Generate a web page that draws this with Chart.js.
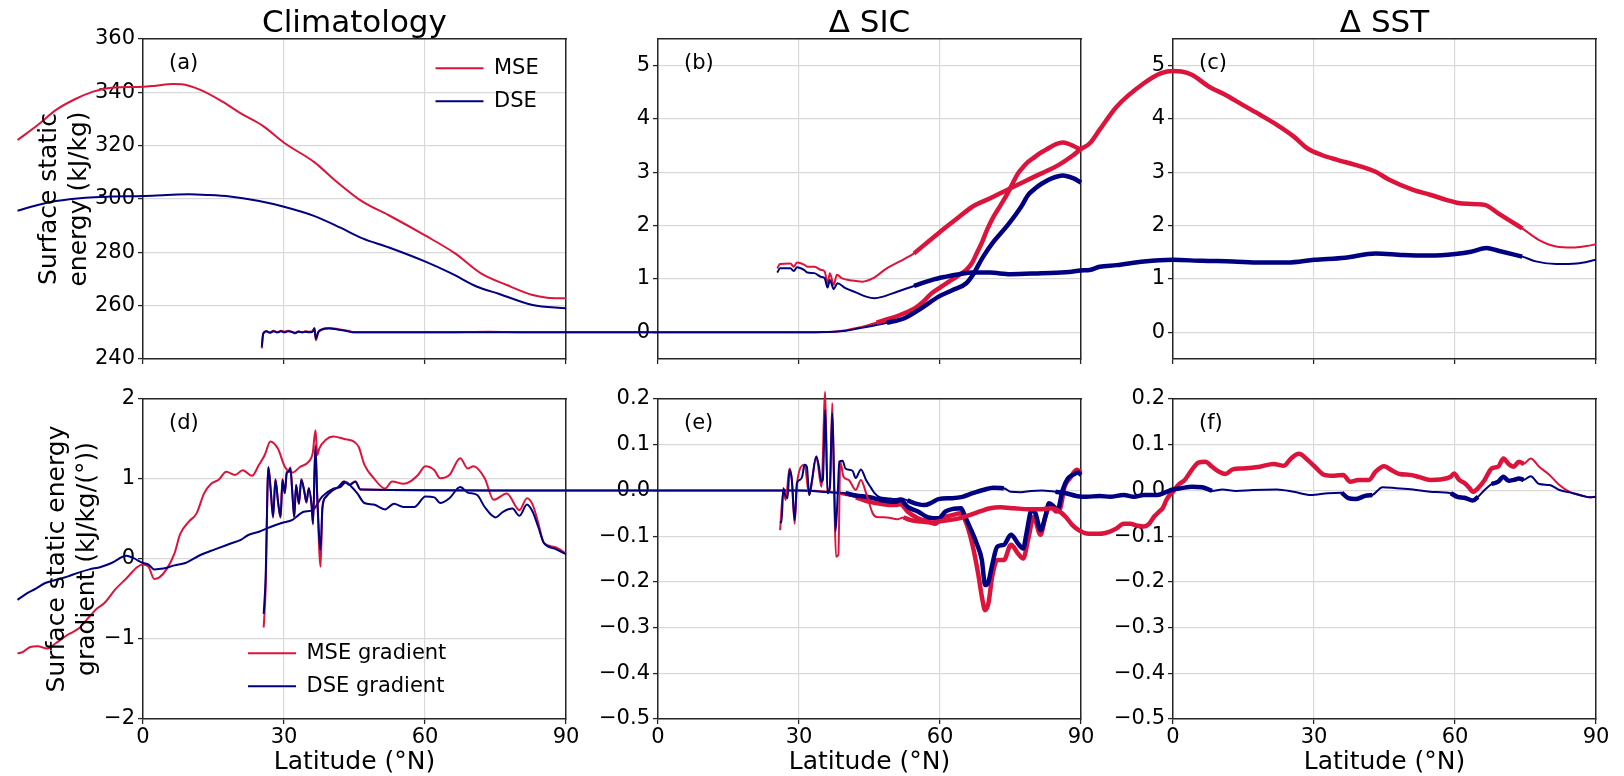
<!DOCTYPE html>
<html>
<head>
<meta charset="utf-8">
<title>Surface static energy</title>
<script src="https://cdn.jsdelivr.net/npm/chart.js@4.4.1/dist/chart.umd.min.js"></script>
<style>
  html, body { margin: 0; padding: 0; background: #fff; }
  #wrap { position: relative; width: 1624px; height: 776px; overflow: hidden; }
  #wrap canvas { position: absolute; left: 0; top: 0; }
</style>
</head>
<body>
<div id="wrap">
  <canvas id="pa" width="1624" height="776"></canvas>
  <canvas id="pb" width="1624" height="776"></canvas>
  <canvas id="pc" width="1624" height="776"></canvas>
  <canvas id="pd" width="1624" height="776"></canvas>
  <canvas id="pe" width="1624" height="776"></canvas>
  <canvas id="pf" width="1624" height="776"></canvas>
</div>
<script>
// ticks
const latTicks = [0, 30, 60, 90];
const climTicks = [240, 260, 280, 300, 320, 340, 360];
const deltaTicks = [0, 1, 2, 3, 4, 5];
const climGradTicks = [-2, -1, 0, 1, 2];
const deltaGradTicks = [-0.5, -0.4, -0.3, -0.2, -0.1, 0.0, 0.1, 0.2];

// (a) climatology
const climMseLat = [-26.7, -22.4, -18.5, -14.5, -10.6, -6.7, 0, 2.7, 6.3, 8.2, 12.2, 16.9, 20.8, 25.5, 30, 36.5, 41.2, 46.7, 52.2, 60.1, 66.4, 71.9, 77.4, 82.9, 86, 90];
const climMse = [322.1, 327.75, 333.4, 337.4, 340.25, 341.75, 342.1, 342.5, 343.1, 343, 340.9, 336.5, 332.1, 327.4, 321.1, 313.75, 306.5, 299, 294, 286.25, 279.6, 272.1, 267.75, 264, 263, 262.75];
const climDseLat = [-26.7, -22.4, -18.5, -12.2, -6.7, 0, 5.1, 9.8, 13.7, 18.5, 24.7, 30, 36.5, 42, 46.7, 52.2, 60.1, 65.6, 71.1, 75.8, 82.9, 90];
const climDse = [295.6, 297.75, 299.25, 300.5, 300.9, 301.1, 301.5, 301.75, 301.5, 300.9, 299.25, 297.1, 293.6, 289.25, 285.25, 281.9, 276.5, 272.1, 267.1, 264.4, 260.25, 259];

// (b) delta SIC
const sicMseLat = [-84.3, -84.0, -83.3, -82.6, -81.8, -81.0, -80.2, -79.5, -78.7, -78.0, -77.2, -76.5, -75.7, -75.0, -74.3, -73.5, -73.1, -72.8, -72.3, -71.5, -70.0, -68.0, -66.0, -64.5, -45, -36, -28, 10, 25, 30, 35, 37.7, 40, 42.8, 44.5, 46.5, 49, 51.6, 53, 54.6, 56.5, 58.2, 60, 61.9, 63.8, 65.6, 66.8, 67.8, 69, 70, 71.4, 73, 74.4, 75.5, 76.6, 77.7, 78.8, 80.2, 81.3, 82.5, 83.6, 84.7, 86.1, 87.2, 88.3, 90];
const sicMse = [-0.30, -0.02, 0.02, 0.0, 0.03, 0.0, 0.03, 0.01, 0.03, 0.01, -0.02, 0.02, 0.0, 0.02, 0.01, 0.02, 0.08, -0.15, 0.0, 0.06, 0.08, 0.06, 0.03, 0.0, 0.0, 0.01, 0.0, 0.0, 0.0, 0.0, 0.005, 0.01, 0.04, 0.09, 0.13, 0.18, 0.25, 0.33, 0.38, 0.45, 0.58, 0.73, 0.84, 0.95, 1.06, 1.17, 1.3, 1.48, 1.7, 1.92, 2.17, 2.4, 2.61, 2.8, 2.98, 3.1, 3.2, 3.29, 3.36, 3.42, 3.48, 3.53, 3.56, 3.54, 3.5, 3.42];
const sicDseLat = [-84.3, -84.0, -83.3, -82.6, -81.8, -81.0, -80.2, -79.5, -78.7, -78.0, -77.2, -76.5, -75.7, -75.0, -74.3, -73.5, -73.1, -72.8, -72.3, -71.5, -70.0, -68.0, -66.0, -64.5, -40, -10, 10, 30, 36.2, 40, 42.8, 45.5, 48.7, 52.3, 56, 59.7, 62.6, 65.6, 67, 69.2, 71.4, 74.4, 77.3, 78.8, 80.3, 81.7, 83.9, 86.1, 88.3, 90];
const sicDse = [-0.27, -0.03, 0.02, -0.01, 0.02, 0.0, 0.02, 0.0, 0.02, 0.01, -0.01, 0.01, 0.0, 0.01, 0.0, 0.01, 0.07, -0.12, 0.0, 0.05, 0.07, 0.05, 0.02, 0.0, 0.0, 0.0, 0.0, 0.0, 0.005, 0.03, 0.075, 0.12, 0.18, 0.26, 0.45, 0.67, 0.79, 0.92, 1.08, 1.42, 1.7, 2.01, 2.36, 2.58, 2.7, 2.79, 2.89, 2.94, 2.89, 2.81];
const sicMseSig = [[46.5, 90]];
const sicDseSig = [[48.7, 90]];

// (c) delta SST
const sstMseLat = [-84.2, -83.6, -81.4, -80.7, -80.0, -78.5, -77.8, -76.3, -74.9, -74.1, -73.5, -73.0, -72.2, -71.5, -70.4, -68.3, -66.1, -63.9, -60.9, -57.3, -55.1, -49.9, -46.3, -42.6, -39, -35.3, -31.6, -28, -24.3, -21.4, -19.7, -17.75, -15.6, -12, -6.2, -2.5, 0, 1.8, 4, 7.6, 11.2, 14.9, 18.5, 22.1, 25.7, 28.6, 31.5, 35.1, 38.8, 43.1, 46, 51.1, 54.7, 58.3, 60.4, 62.7, 66.3, 69.2, 71.4, 74.3, 77.9, 81.5, 85.1, 88, 90];
const sstMse = [1.2, 1.28, 1.29, 1.23, 1.31, 1.27, 1.23, 1.23, 1.17, 1.14, 0.92, 1.11, 0.89, 1.08, 1.01, 0.97, 0.95, 1.01, 1.2, 1.37, 1.48, 1.86, 2.11, 2.36, 2.51, 2.67, 2.83, 2.98, 3.14, 3.31, 3.43, 3.54, 3.8, 4.23, 4.67, 4.86, 4.9, 4.89, 4.83, 4.61, 4.45, 4.26, 4.08, 3.89, 3.67, 3.45, 3.33, 3.23, 3.14, 3.01, 2.86, 2.67, 2.58, 2.48, 2.43, 2.41, 2.39, 2.23, 2.11, 1.95, 1.73, 1.61, 1.59, 1.62, 1.65];
const sstDseLat = [-84.2, -83.6, -81.4, -80.7, -80.0, -78.5, -77.8, -76.3, -74.9, -74.1, -73.5, -73.0, -72.2, -71.4, -69.7, -67.5, -65.3, -63.5, -61.7, -58.7, -55.1, -51.4, -48.5, -45.5, -42.6, -39, -34.6, -28, -22.1, -19.7, -17.75, -15.6, -12, -6.2, 0, 6.2, 12.7, 18.5, 24.3, 30.1, 36.6, 43.1, 48.9, 54.7, 60.1, 63.4, 66.7, 69.2, 74.3, 77.2, 81.5, 85.9, 90];
const sstDse = [1.12, 1.2, 1.2, 1.15, 1.22, 1.17, 1.12, 1.11, 1.04, 1.01, 0.84, 0.98, 0.81, 0.92, 0.83, 0.75, 0.67, 0.64, 0.67, 0.76, 0.87, 0.98, 1.04, 1.09, 1.12, 1.12, 1.09, 1.11, 1.13, 1.16, 1.17, 1.23, 1.26, 1.33, 1.36, 1.34, 1.33, 1.31, 1.31, 1.36, 1.4, 1.48, 1.45, 1.44, 1.47, 1.51, 1.58, 1.53, 1.42, 1.33, 1.28, 1.29, 1.36];
const sstMseSig = [[-55.1, 74.3]];
const sstDseSig = [[-55.1, 74.3]];

// (d) climatology gradient
const climGradMseLat = [-26.7, -25.5, -24, -22.4, -20.4, -18.5, -16.1, -13.7, -11.4, -9.8, -8.2, -5.9, -3.5, -1.2, 0, 1.2, 2.4, 3.5, 5.1, 6.7, 7.9, 9.8, 11.4, 13, 14.5, 16.1, 17.7, 19.6, 21.2, 23.2, 24.7, 25.9, 27.1, 28.7, 30.2, 31.8, 33.4, 35.3, 36.1, 36.7, 37.1, 37.5, 38.9, 40.5, 42.8, 44.8, 45.9, 47.1, 49.1, 51.5, 53, 55.4, 56.9, 58.5, 60.1, 62, 63.2, 65.2, 67.5, 69.1, 70.3, 72.7, 74.6, 77.4, 80.1, 81.7, 82.9, 84.1, 85.3, 87.6, 90];
const climGradMse = [-1.18, -1.16, -1.1, -1.09, -1.12, -1.05, -0.95, -0.87, -0.72, -0.62, -0.55, -0.38, -0.24, -0.1, -0.07, -0.1, -0.25, -0.23, -0.12, 0.07, 0.31, 0.47, 0.57, 0.82, 0.94, 0.99, 1.09, 1.05, 1.11, 1.04, 1.18, 1.3, 1.47, 1.38, 1.15, 1.08, 1.15, 1.22, 1.32, 1.61, 1.3, 1.38, 1.49, 1.53, 1.5, 1.47, 1.4, 1.18, 1.01, 0.88, 0.97, 0.94, 0.97, 1.05, 1.16, 1.11, 1.01, 1.05, 1.26, 1.13, 1.16, 1.01, 0.74, 0.82, 0.61, 0.76, 0.68, 0.45, 0.2, 0.15, 0.07];
const climGradDseLat = [-26.7, -24.7, -22.8, -20.8, -18.5, -16.1, -13.7, -11.4, -9, -6.7, -3.5, -2, 0, 1.2, 2.4, 4.3, 6.7, 9, 12.2, 15.3, 18.5, 20.8, 22.4, 24.7, 27.1, 29.5, 31.8, 34.2, 36.1, 38.1, 40.5, 42, 43.2, 44.4, 45.6, 47.1, 49.1, 51.5, 53.4, 55.4, 57.7, 60.1, 62, 63.2, 65.2, 67.5, 69.1, 71.1, 72.7, 75, 76.6, 78.6, 80.1, 81.7, 82.9, 84.1, 85.3, 87.6, 90];
const climGradDse = [-0.51, -0.43, -0.37, -0.3, -0.26, -0.22, -0.17, -0.13, -0.1, -0.05, 0.04, 0.01, -0.05, -0.07, -0.13, -0.12, -0.08, -0.05, 0.05, 0.12, 0.19, 0.24, 0.3, 0.34, 0.4, 0.45, 0.49, 0.59, 0.61, 0.78, 0.88, 0.9, 0.96, 0.9, 0.82, 0.7, 0.68, 0.62, 0.69, 0.65, 0.65, 0.78, 0.77, 0.7, 0.76, 0.9, 0.83, 0.8, 0.65, 0.52, 0.59, 0.63, 0.54, 0.68, 0.59, 0.4, 0.2, 0.13, 0.06];

// (e) delta SIC gradient
const sicGradMseLat = [-83.9, -83.5, -82.9, -82.4, -81.9, -81.4, -80.8, -80.3, -79.9, -79.4, -79.0, -78.6, -78.2, -77.8, -77.4, -77.0, -76.4, -75.9, -75.3, -74.8, -74.3, -73.7, -73.4, -72.9, -72.5, -71.8, -71.4, -70.7, -69.2, -68.0, -66.8, -65.6, -64.4, -63.3, -30, 0, 30.3, 36.2, 39.9, 42.1, 45, 47.9, 50.5, 51.6, 53.1, 55.3, 57.5, 59, 60.4, 62.6, 64.5, 65.6, 67, 68.1, 68.9, 69.6, 70.3, 71.1, 72.2, 73.6, 75.1, 76.6, 77.7, 78.8, 79.9, 81.4, 82.4, 83.5, 84.7, 85.4, 86.5, 87.6, 89.1, 90];
const sicGradMse = [-0.30, -0.22, 0.05, 0.0, -0.06, 0.025, -0.03, -0.06, 0.025, -0.006, 0.04, 0.043, 0.05, -0.006, -0.06, 0.012, -0.03, 0.025, 0.0, -0.027, 0.005, -0.034, -0.075, 0.1, -0.014, -0.167, -0.04, -0.015, 0.0, 0.008, 0.02, 0.013, 0.02, 0.002, 0, 0, 0, -0.003, -0.01, -0.015, -0.025, -0.03, -0.032, -0.03, -0.046, -0.061, -0.068, -0.073, -0.061, -0.054, -0.05, -0.072, -0.123, -0.181, -0.232, -0.262, -0.247, -0.189, -0.152, -0.152, -0.119, -0.138, -0.149, -0.105, -0.058, -0.097, -0.058, -0.032, -0.046, -0.045, 0.008, 0.026, 0.045, 0.039];
const sicGradDseLat = [-83.9, -83.5, -82.9, -82.4, -81.9, -81.4, -80.8, -80.3, -79.9, -79.4, -79.0, -78.6, -78.2, -77.8, -77.4, -77.0, -76.4, -75.9, -75.3, -74.8, -74.3, -73.7, -73.4, -72.9, -72.5, -71.8, -71.4, -70.7, -69.2, -68.0, -66.8, -65.6, -64.4, -63.3, -30, 0, 30.3, 36.2, 39.9, 42.1, 45, 47.9, 50.5, 51.6, 53.1, 55.3, 57.5, 59.7, 61.2, 63, 64.5, 65.2, 66.3, 67.8, 68.9, 69.6, 70.3, 71.1, 72.2, 73.6, 75.1, 76.6, 77.7, 78.4, 79.5, 80.3, 81.4, 82.4, 83.2, 84.3, 85, 86.1, 87.2, 88.3, 89.4, 90];
const sicGradDse = [-0.27, -0.196, 0.051, 0.001, -0.057, 0.023, -0.028, -0.057, 0.023, -0.006, 0.037, 0.041, 0.048, -0.006, -0.057, 0.012, -0.028, 0.023, 0.001, -0.025, 0.005, -0.032, -0.072, 0.096, -0.014, -0.13, -0.036, -0.014, 0.001, 0.007, 0.019, 0.012, 0.019, 0.002, 0, 0, 0, -0.004, -0.006, -0.011, -0.015, -0.022, -0.025, -0.021, -0.036, -0.046, -0.059, -0.061, -0.046, -0.04, -0.039, -0.054, -0.079, -0.116, -0.152, -0.207, -0.2, -0.163, -0.123, -0.119, -0.097, -0.116, -0.127, -0.094, -0.043, -0.05, -0.087, -0.058, -0.028, -0.036, -0.043, 0.001, 0.026, 0.034, 0.039, 0.034];
const sicGradMseSig = [[42.1, 90]];
const sicGradDseSig = [[39.9, 90]];

// (f) delta SST gradient
const sstGradMseLat = [-83.6, -82.9, -82.4, -81.6, -81.1, -80.5, -80.0, -78.4, -77.4, -75.9, -74.8, -74.0, -73.5, -73.0, -72.5, -72.1, -71.7, -71.2, -70.8, -70.1, -69.0, -67.5, -66.4, -65.3, -63.9, -63.1, -60.9, -58.7, -57.3, -55.8, -53.6, -51.4, -49.9, -47.7, -45.5, -43.3, -41.1, -38.9, -36.7, -33.8, -30.9, -28.0, -25.8, -24.3, -22.8, -21.4, -19.9, -18.4, -15.6, -13.4, -12, -10.5, -9.1, -7.6, -6.2, -5.1, -4, -2.9, -2.2, -1.4, -0.7, 0, 1.1, 2.5, 4, 5.4, 6.9, 8.3, 9.8, 11.2, 12.7, 14.9, 18.5, 21.4, 23.6, 25.1, 26.8, 28.6, 30.1, 32.2, 34.4, 36.2, 37.7, 39.5, 41.7, 43.1, 44.9, 46.7, 48.2, 50.4, 52.5, 54.7, 56.9, 59.1, 59.8, 60.9, 62, 63.1, 63.8, 64.9, 66.3, 67.8, 69.2, 70.3, 71.4, 72.5, 73.6, 74.6, 76.1, 77.9, 80.1, 82.2, 84.4, 86.6, 88.4, 90];
const sstGradMse = [-0.087, 0.001, -0.021, 0.048, 0.023, -0.073, 0.016, 0.056, -0.01, 0.074, 0.008, 0.216, -0.006, 0.008, 0.191, 0.001, -0.145, -0.141, 0.063, 0.03, 0.023, 0.001, 0.023, -0.006, -0.05, -0.058, -0.059, -0.063, -0.059, -0.065, -0.068, -0.07, -0.068, -0.065, -0.061, -0.054, -0.046, -0.039, -0.037, -0.039, -0.041, -0.041, -0.039, -0.045, -0.058, -0.076, -0.088, -0.094, -0.095, -0.09, -0.083, -0.073, -0.073, -0.077, -0.079, -0.073, -0.057, -0.046, -0.039, -0.021, -0.01, -0.003, 0.012, 0.023, 0.045, 0.061, 0.063, 0.052, 0.041, 0.036, 0.046, 0.048, 0.052, 0.058, 0.054, 0.07, 0.08, 0.067, 0.053, 0.034, 0.032, 0.034, 0.019, 0.023, 0.023, 0.041, 0.053, 0.043, 0.036, 0.034, 0.029, 0.023, 0.024, 0.03, 0.037, 0.023, 0.016, 0.005, -0.003, 0.005, 0.023, 0.048, 0.052, 0.07, 0.058, 0.052, 0.063, 0.058, 0.07, 0.052, 0.034, 0.012, -0.003, -0.01, -0.015, -0.014];
const sstGradDseLat = [-83.6, -83.3, -82.9, -82.5, -82.0, -81.6, -81.1, -80.5, -80.0, -79.4, -78.9, -78.4, -77.9, -77.4, -76.8, -75.9, -75.4, -74.8, -74.5, -74.0, -73.5, -73.0, -72.5, -72.1, -71.8, -71.3, -71.0, -70.3, -69.7, -68.2, -67.5, -66.4, -65.3, -64.2, -63.5, -62.4, -60.9, -59.1, -58.0, -56.5, -54.3, -52.9, -51.4, -49.9, -47.0, -44.8, -42.6, -40.4, -38.2, -36.0, -34.5, -32.4, -30.2, -28.0, -25.0, -22.8, -20.6, -18.4, -15.6, -13.4, -10.5, -8.3, -6.2, -3.3, -1.4, 0, 1.8, 4, 6.2, 8.3, 10.5, 13.4, 17, 22.1, 25.7, 29.3, 33, 35.9, 37.3, 38.8, 40.9, 42.4, 44.6, 47.5, 51.1, 54.7, 59.1, 60.5, 62, 63.8, 64.9, 66.3, 67.8, 69.2, 70.3, 71.4, 72.5, 73.6, 74.6, 76.1, 77.9, 80.1, 82.2, 85.1, 87.3, 88.7, 90];
const sstGradDse = [-0.068, -0.07, 0.005, -0.01, -0.017, 0.045, 0.023, -0.065, 0.016, 0.023, 0.03, 0.056, 0.052, -0.01, 0.023, 0.074, 0.056, 0.019, 0.023, 0.176, -0.006, 0.008, 0.169, 0.023, -0.09, 0.001, 0.063, 0.065, 0.048, 0.043, 0.027, 0.046, 0.023, 0.005, -0.006, -0.015, -0.017, -0.019, -0.017, -0.022, -0.03, -0.032, -0.027, -0.019, -0.017, -0.014, -0.006, 0.001, 0.006, 0.005, -0.003, -0.004, -0.001, 0.0, -0.003, -0.006, -0.012, -0.014, -0.012, -0.014, -0.01, -0.014, -0.01, -0.01, -0.003, 0.002, 0.005, 0.008, 0.007, -0.001, 0.002, -0.001, 0.001, 0.002, -0.003, -0.01, -0.006, -0.005, -0.017, -0.019, -0.012, -0.01, 0.007, 0.005, 0.002, -0.003, -0.006, -0.014, -0.016, -0.022, -0.014, 0.001, 0.014, 0.019, 0.03, 0.021, 0.023, 0.026, 0.023, 0.031, 0.014, 0.012, 0.001, -0.006, -0.012, -0.015, -0.014];
const sstGradMseSig = [[-57.3, 74.6]];
const sstGradDseSig = [[-56.5, -36.0], [-25.0, 8.3], [35.9, 42.4], [59.1, 64.9], [67.8, 74.6]];

// look
const W = 1624, H = 776;
const FONT = "'DejaVu Sans', sans-serif";
const MSE_COLOR = '#dc143c';
const DSE_COLOR = '#000080';
const GRID = '#d9d9d9';
const SPINE = '#262626';
const THIN = 2, THICK = 4.5;
const colLeft = [143, 658, 1173];
const colRight = [566, 1081, 1596];
const rowTop = [39, 399];
const rowBottom = [359, 719];

Chart.defaults.font.family = FONT;
Chart.defaults.color = '#000';

function pts(lat, vals) {
    return lat.map((x, i) => ({ x: x, y: vals[i] }));
}

// thick overlay: keep only the significant stretches
function sigPts(lat, vals, ranges) {
    return lat.map((x, i) => ({
        x: x,
        y: ranges.some(r => x >= r[0] && x <= r[1]) ? vals[i] : null
    }));
}

function lineSet(label, data, color, width, order, legend) {
    return {
        label: label,
        data: data,
        borderColor: color,
        backgroundColor: color,
        borderWidth: width,
        pointRadius: 0,
        pointHoverRadius: 0,
        cubicInterpolationMode: 'monotone',
        clip: false,
        spanGaps: false,
        order: order,
        borderJoinStyle: 'round',
        xAxisID: 'x',
        yAxisID: 'y',
        showInLegend: !!legend
    };
}

const plainNum = v => String(v);
const minusNum = v => (v < 0 ? '\u2212' + String(-v) : String(v));
const minusDec = v => (v < -1e-9 ? '\u2212' : '') + Math.abs(v).toFixed(1);

// panel letter and rotated y label
function panelText(tag, yLines, yXs) {
    return {
        id: 'panelText',
        afterDraw(chart) {
            const a = chart.chartArea;
            const c = chart.ctx;
            c.save();
            c.fillStyle = '#000';
            c.font = '21px ' + FONT;
            c.textAlign = 'left';
            c.textBaseline = 'middle';
            c.fillText(tag, a.left + 26, a.top + 25);
            if (yLines) {
                c.font = '25px ' + FONT;
                c.textAlign = 'center';
                const cy = (a.top + a.bottom) / 2;
                yLines.forEach((t, i) => {
                    c.save();
                    c.translate(yXs[i], cy);
                    c.rotate(-Math.PI / 2);
                    c.fillText(t, 0, 0);
                    c.restore();
                });
            }
            c.restore();
        }
    };
}

// legend sits inside the axes at a fixed spot
function legendSpot(spot) {
    return {
        id: 'legendSpot',
        afterLayout(chart) {
            const lg = chart.legend;
            if (!lg || !spot) return;
            const w = lg.width, h = lg.height;
            lg.left = spot.x;
            lg.top = spot.y;
            lg.right = spot.x + w;
            lg.bottom = spot.y + h;
        }
    };
}

function makePanel(id, o) {
    const left = colLeft[o.col], right = colRight[o.col];
    const top = rowTop[o.row], bottom = rowBottom[o.row];
    const bottomRow = o.row === 1;
    const gridOpts = { color: GRID, lineWidth: 1.2, tickColor: SPINE, tickLength: 5, tickWidth: 1.3 };
    const borderOpts = { color: SPINE, width: 1.5 };

    return new Chart(document.getElementById(id), {
        type: 'line',
        data: { datasets: o.datasets },
        options: {
            responsive: false,
            animation: false,
            devicePixelRatio: 1,
            events: [],
            layout: { padding: 0 },
            plugins: {
                tooltip: { enabled: false },
                legend: {
                    display: !!o.legendAt,
                    position: 'chartArea',
                    align: 'start',
                    labels: {
                        usePointStyle: true,
                        pointStyle: 'line',
                        pointStyleWidth: 48,
                        boxHeight: 21,
                        padding: 12,
                        color: '#000',
                        font: { family: FONT, size: 21 },
                        filter: (item, data) => data.datasets[item.datasetIndex].showInLegend,
                        sort: (a, b) => a.datasetIndex - b.datasetIndex
                    }
                }
            },
            scales: {
                x: {
                    type: 'linear',
                    position: 'bottom',
                    bounds: 'data',
                    afterDataLimits: s => { s.min = 0; s.max = 90; },
                    afterBuildTicks: s => { s.ticks = latTicks.map(v => ({ value: v })); },
                    afterFit: s => { s.height = H - bottom; },
                    grid: gridOpts,
                    border: borderOpts,
                    ticks: {
                        display: bottomRow,
                        autoSkip: false,
                        maxRotation: 0,
                        padding: 1,
                        color: '#000',
                        font: { family: FONT, size: 21 },
                        callback: plainNum
                    },
                    title: {
                        display: bottomRow,
                        text: 'Latitude (\u00b0N)',
                        color: '#000',
                        font: { family: FONT, size: 25, lineHeight: 1.1 },
                        padding: 0
                    }
                },
                x2: {
                    type: 'linear',
                    axis: 'x',
                    position: 'top',
                    bounds: 'data',
                    afterDataLimits: s => { s.min = 0; s.max = 90; },
                    afterFit: s => { s.height = top; },
                    grid: { display: false, drawTicks: false },
                    border: borderOpts,
                    ticks: { display: false },
                    title: {
                        display: !!o.title,
                        text: o.title || '',
                        color: '#000',
                        font: { family: FONT, size: 31 },
                        padding: { top: 5, bottom: 0 }
                    }
                },
                y: {
                    type: 'linear',
                    position: 'left',
                    min: o.yMin,
                    max: o.yMax,
                    bounds: 'data',
                    afterBuildTicks: s => { s.ticks = o.yTicks.map(v => ({ value: v })); },
                    afterFit: s => { s.width = left; },
                    grid: gridOpts,
                    border: borderOpts,
                    ticks: {
                        padding: 3,
                        color: '#000',
                        font: { family: FONT, size: 21 },
                        callback: o.fmt
                    }
                },
                y2: {
                    type: 'linear',
                    axis: 'y',
                    position: 'right',
                    min: 0,
                    max: 1,
                    afterFit: s => { s.width = W - right; },
                    grid: { display: false, drawTicks: false },
                    border: borderOpts,
                    ticks: { display: false }
                }
            }
        },
        plugins: [panelText(o.tag, o.yTitle, o.yTitleX), legendSpot(o.legendAt)]
    });
}

function pairSets(mLat, m, dLat, d, mSig, dSig, labels) {
    const sets = [
        lineSet(labels ? labels[0] : 'MSE', pts(mLat, m), MSE_COLOR, THIN, 4, !!labels),
        lineSet(labels ? labels[1] : 'DSE', pts(dLat, d), DSE_COLOR, THIN, 3, !!labels)
    ];
    if (mSig) sets.push(lineSet('MSE sig', sigPts(mLat, m, mSig), MSE_COLOR, THICK, 2, false));
    if (dSig) sets.push(lineSet('DSE sig', sigPts(dLat, d, dSig), DSE_COLOR, THICK, 1, false));
    return sets;
}

makePanel('pa', {
    col: 0, row: 0, title: 'Climatology', tag: '(a)',
    yMin: 240, yMax: 360, yTicks: climTicks, fmt: plainNum,
    yTitle: ['Surface static', 'energy (kJ/kg)'], yTitleX: [49, 79.5],
    legendAt: { x: 423.5, y: 45.8 },
    datasets: pairSets(climMseLat, climMse, climDseLat, climDse, null, null, ['MSE', 'DSE'])
});

makePanel('pb', {
    col: 1, row: 0, title: '\u0394 SIC', tag: '(b)',
    yMin: -0.5, yMax: 5.5, yTicks: deltaTicks, fmt: plainNum,
    datasets: pairSets(sicMseLat, sicMse, sicDseLat, sicDse, sicMseSig, sicDseSig)
});

makePanel('pc', {
    col: 2, row: 0, title: '\u0394 SST', tag: '(c)',
    yMin: -0.5, yMax: 5.5, yTicks: deltaTicks, fmt: plainNum,
    datasets: pairSets(sstMseLat, sstMse, sstDseLat, sstDse, sstMseSig, sstDseSig)
});

makePanel('pd', {
    col: 0, row: 1, tag: '(d)',
    yMin: -2, yMax: 2, yTicks: climGradTicks, fmt: minusNum,
    yTitle: ['Surface static energy', 'gradient (kJ/kg/(\u00b0))'], yTitleX: [57, 87],
    legendAt: { x: 236, y: 630.8 },
    datasets: pairSets(climGradMseLat, climGradMse, climGradDseLat, climGradDse, null, null, ['MSE gradient', 'DSE gradient'])
});

makePanel('pe', {
    col: 1, row: 1, tag: '(e)',
    yMin: -0.5, yMax: 0.2, yTicks: deltaGradTicks, fmt: minusDec,
    datasets: pairSets(sicGradMseLat, sicGradMse, sicGradDseLat, sicGradDse, sicGradMseSig, sicGradDseSig)
});

makePanel('pf', {
    col: 2, row: 1, tag: '(f)',
    yMin: -0.5, yMax: 0.2, yTicks: deltaGradTicks, fmt: minusDec,
    datasets: pairSets(sstGradMseLat, sstGradMse, sstGradDseLat, sstGradDse, sstGradMseSig, sstGradDseSig)
});
</script>
</body>
</html>
